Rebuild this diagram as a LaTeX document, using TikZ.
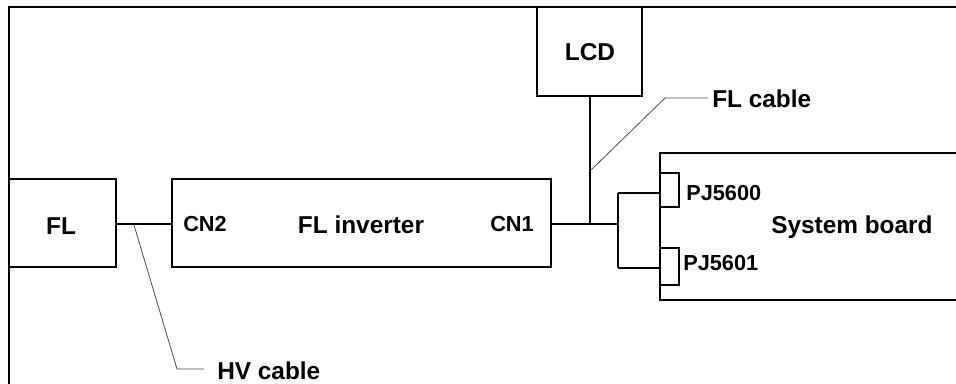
\documentclass[tikz,border=0pt]{standalone}
\usepackage{fontspec}
\setmainfont{Liberation Sans}
\usetikzlibrary{fit}
\begin{document}
\begin{tikzpicture}[x=0.75pt,y=-0.75pt,
  box/.style={draw=black, line width=1.4pt, inner sep=0pt, fill=none},
  wire/.style={draw=black, line width=1.6pt},
  leader/.style={draw=black!70, line width=0.6pt},
  big/.style={font=\fontsize{18.3}{21}\selectfont\bfseries, inner sep=0pt},
  small/.style={font=\fontsize{16.3}{19}\selectfont\bfseries, inner sep=0pt}]
\useasboundingbox (0,0) rectangle (956,384);
\clip (0,0) rectangle (956,384);
% outer frame (cropped)
\draw[line width=1.6pt] (9,420) -- (9,7) -- (1000,7);
% boxes
\node[box, fit={(9,179) (116,267)}] (fl) {};
\node[big] at (61,226) {FL};
\node[box, fit={(172,179) (551,267)}] (inv) {};
\node[big] at (361,225) {FL inverter};
\node[small, anchor=west] (cn2) at (183,224) {CN2};
\node[small, anchor=east] (cn1) at (534,224) {CN1};
\node[box, fit={(537,7) (642,96)}] (lcd) {};
\node[big] at (590,52) {LCD};
\node[box, fit={(660,153) (1000,300)}] (sb) {};
\node[big, anchor=west] at (771,227) {System board};
\node[box, line width=1.1pt, fit={(660,173) (679,207)}] (pj0) {};
\node[box, line width=1.1pt, fit={(660,248) (679,285)}] (pj1) {};
\node[small, anchor=west] at (686,193) {PJ5600};
\node[small, anchor=west] at (683,263) {PJ5601};
% wires
\coordinate (j1) at (590,224);
\coordinate (j2) at (618,224);
\coordinate (bt) at (618,193);
\coordinate (bb) at (618,268);
\draw[wire] (fl.east |- 0,224) -- (inv.west |- 0,224);
\draw[wire] (inv.east |- 0,224) -- (j2);
\draw[wire] (lcd.south -| j1) -- (j1);
\draw[wire] (bt) -- (bb);
\draw[wire] (bt) -- (pj0.west |- bt);
\draw[wire] (bb) -- (pj1.west |- bb);
% leaders
\coordinate (hv0) at (134,225);
\coordinate (hv1) at (177,369);
\coordinate (hv2) at (204,369);
\node[big, anchor=west] (hv) at (217,371) {HV cable};
\draw[leader] (hv0) -- (hv1) -- (hv2);
\coordinate (fc0) at (591,170);
\coordinate (fc1) at (665,98);
\coordinate (fc2) at (708,98);
\node[big, anchor=west] (flc) at (712,99) {FL cable};
\draw[leader] (fc0) -- (fc1) -- (fc2);
\end{tikzpicture}
\end{document}
